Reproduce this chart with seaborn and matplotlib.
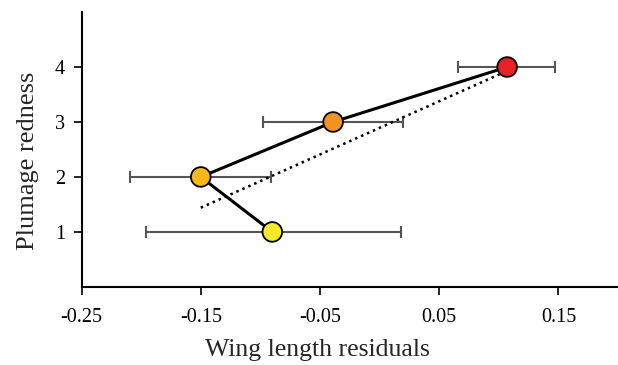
import matplotlib
matplotlib.use("Agg")
import matplotlib.pyplot as plt
import seaborn as sns
import pandas as pd

# data
redness = [1, 2, 3, 4]
wing_resid = [-0.090, -0.150, -0.039, 0.107]
err_low = [-0.196, -0.209, -0.098, 0.066]
err_high = [0.018, -0.091, 0.020, 0.147]
point_colors = ["#F4E92B", "#FBB619", "#F39322", "#E82128"]
trend_x = [-0.150, 0.105]
trend_y = [1.44, 3.91]
x_ticks = [-0.25, -0.15, -0.05, 0.05, 0.15]
x_tick_labels = ["-0.25", "-0.15", "-0.05", "0.05", "0.15"]
y_ticks = [1, 2, 3, 4]

df = pd.DataFrame({"x": wing_resid, "y": redness, "lo": err_low, "hi": err_high,
                   "cat": [str(r) for r in redness]})

sns.set_style("ticks")
plt.rcParams["font.family"] = ["Liberation Serif", "DejaVu Serif"]

fig = plt.figure(figsize=(6.18, 3.65), dpi=100)
ax = fig.add_axes([0.132, 0.214, 0.868, 0.753])

# error bars
xerr = [[x - l for x, l in zip(df.x, df.lo)], [h - x for x, h in zip(df.x, df.hi)]]
ax.errorbar(df.x, df.y, xerr=xerr, fmt="none", ecolor="#555555", elinewidth=1.5,
            capsize=4, capthick=1.5, zorder=1)

# trend line
sns.lineplot(x=trend_x, y=trend_y, ax=ax, color="black", linestyle=(0, (1, 1.6)),
             linewidth=1.8, zorder=2)

# connecting line
sns.lineplot(data=df, x="x", y="y", sort=False, ax=ax, color="black",
             linewidth=2.2, zorder=3)

# markers
sns.scatterplot(data=df, x="x", y="y", hue="cat", palette=point_colors, s=200,
                edgecolor="black", linewidth=1.3, ax=ax, zorder=4, legend=False)

ax.set_xlim(-0.25, 0.2)
ax.set_ylim(0, 5)
ax.set_xticks(x_ticks)
ax.set_xticklabels(x_tick_labels)
ax.set_yticks(y_ticks)
ax.tick_params(axis="both", labelsize=14.5, width=1.2, length=6, color="black",
               labelcolor="black", direction="out")
ax.tick_params(axis="x", pad=9)
ax.tick_params(axis="y", pad=6)
for s in ["top", "right"]:
    ax.spines[s].set_visible(False)
for s in ["left", "bottom"]:
    ax.spines[s].set_linewidth(1.5)
    ax.spines[s].set_color("black")

ax.set_xlabel("Wing length residuals", fontsize=18.5)
ax.set_ylabel("Plumage redness", fontsize=19)
ax.xaxis.set_label_coords(0.439, -0.19)
ax.yaxis.set_label_coords(-0.08, 0.46)

fig.savefig("out.png", dpi=100)
